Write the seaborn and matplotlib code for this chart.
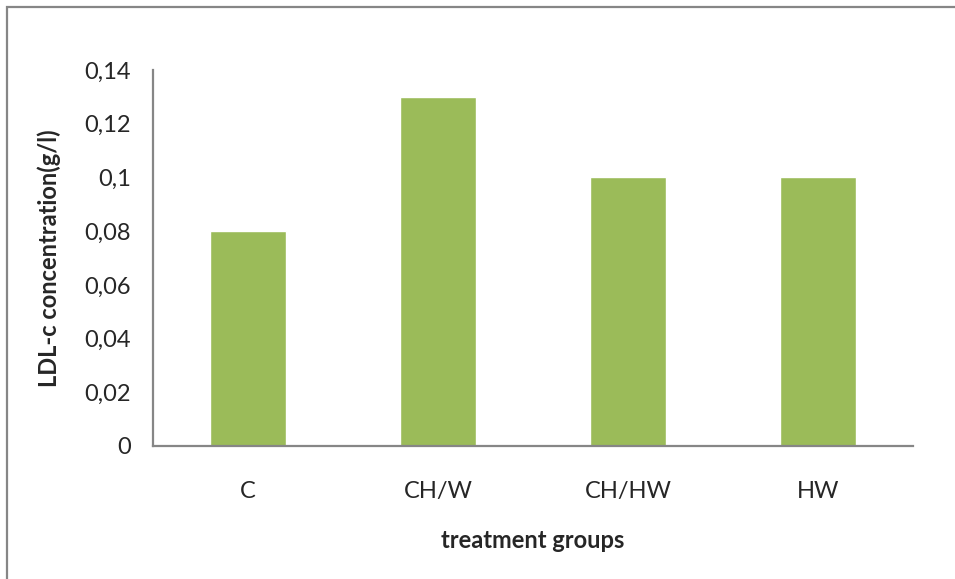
import matplotlib
matplotlib.use("Agg")
import matplotlib.pyplot as plt
import matplotlib.patches as mpatches
import seaborn as sns
import pandas as pd

# Data
groups = ["C", "CH/W", "CH/HW", "HW"]
ldl_values = [0.08, 0.13, 0.10, 0.10]
y_ticks = [0, 0.02, 0.04, 0.06, 0.08, 0.10, 0.12, 0.14]
y_tick_labels = ["0", "0,02", "0,04", "0,06", "0,08", "0,1", "0,12", "0,14"]

sns.set_style("white")
plt.rcParams["font.family"] = ["Lato", "DejaVu Sans"]

df = pd.DataFrame({"group": groups, "ldl": ldl_values})

fig = plt.figure(figsize=(9.55, 5.79), dpi=100)
ax = fig.add_axes([153 / 955, 1 - 446 / 579, 760 / 955, 376 / 579])

sns.barplot(data=df, x="group", y="ldl", color="#9BBB59", width=0.4,
            saturation=1, ax=ax)

ax.set_ylim(0, 0.14)
ax.set_xlim(-0.5, len(groups) - 0.5)
ax.set_yticks(y_ticks)
ax.set_yticklabels(y_tick_labels)

grey = "#868686"
for side in ["top", "right"]:
    ax.spines[side].set_visible(False)
for side in ["left", "bottom"]:
    ax.spines[side].set_color(grey)
    ax.spines[side].set_linewidth(1.6)

ax.tick_params(axis="y", length=6, width=1.4, color=grey, direction="out",
               labelsize=17, pad=10)
ax.tick_params(axis="x", length=0, labelsize=17, pad=25)

ax.set_xlabel("treatment groups", fontsize=17, fontweight="bold", labelpad=20)
ax.set_ylabel("LDL-c concentration(g/l)", fontsize=17, fontweight="bold",
              labelpad=17)

# Chart area frame
fig.patches.append(mpatches.Rectangle((7 / 955, -0.05), 1.0, 1 - 7 / 579 + 0.05,
                                      transform=fig.transFigure, fill=False,
                                      edgecolor=grey, linewidth=1.6))

fig.savefig("out.png", dpi=100)
